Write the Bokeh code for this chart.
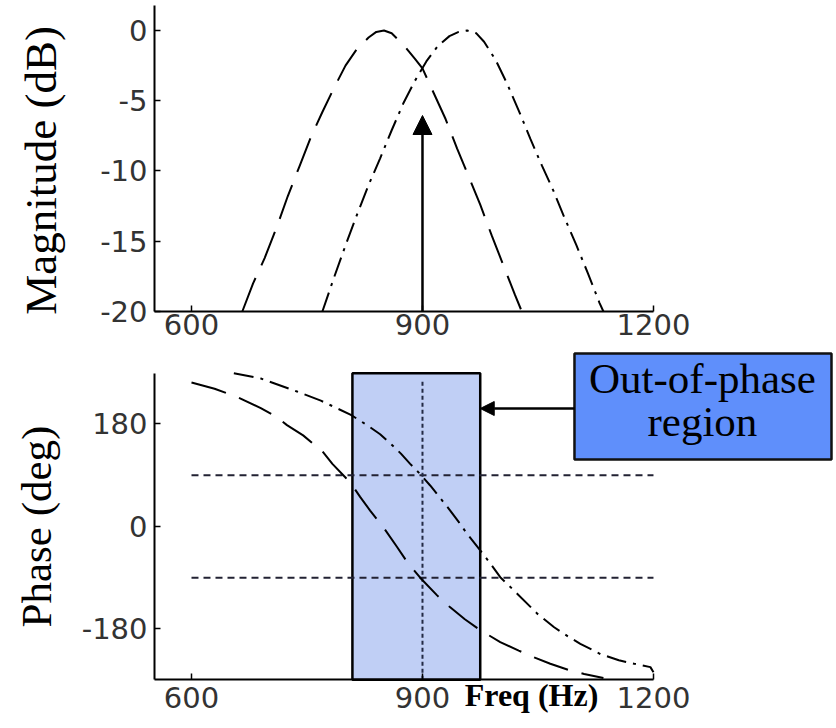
import math
from bokeh.plotting import figure
from bokeh.models import (Range1d, FixedTicker, Arrow, NormalHead, LinearAxis,
                          CustomJSTickFormatter)
from bokeh.core.properties import value
from bokeh.embed import file_html
from bokeh.resources import INLINE

# ---------------- data ----------------
freq_ticks = [600, 900, 1200]
mag_ticks = [0, -5, -10, -15, -20]
phase_ticks = [180, 0, -180]

mag_freq_a = [666, 680, 695, 710, 725, 740, 755, 770, 785, 800, 815, 830, 840, 850,
              860, 875, 890, 900, 915, 930, 945, 960, 975, 990, 1005, 1020, 1029]
mag_db_a = [-20, -18, -16.2, -14.1, -11.8, -9.7, -7.6, -5.8, -4.1, -2.5, -1.3, -0.5, -0.1, 0,
            -0.2, -1.0, -2.0, -2.7, -4.5, -6.3, -8.4, -10.4, -12.4, -14.6, -16.7, -18.8, -20]

mag_freq_b = [770, 785, 800, 815, 830, 845, 860, 875, 890, 905, 920, 935, 947, 958,
              970, 980, 995, 1010, 1025, 1040, 1055, 1070, 1085, 1100, 1115, 1130, 1135]
mag_db_b = [-20, -17.6, -15.3, -13.1, -11.0, -9.1, -7.1, -5.2, -3.6, -2.2, -1.1, -0.4, -0.1, 0,
            -0.2, -0.8, -2.1, -3.8, -5.7, -7.7, -9.6, -11.4, -13.4, -15.3, -17.3, -19.4, -20]

phase_freq_a = [600, 630, 660, 690, 711, 724, 745, 770, 783, 800, 809, 819, 832, 850,
                867, 880, 897, 919, 936, 955, 975, 1001, 1025, 1045, 1066, 1090, 1110, 1135]
phase_deg_a = [253, 242, 227, 208, 192, 178, 160, 132, 110, 86, 72, 52, 28, -3,
               -36, -62, -90, -121, -142, -163, -182, -203, -218, -230, -241, -252, -259, -266]

phase_freq_b = [655, 690, 737, 768, 807, 828, 845, 859, 872, 884, 897, 910, 923, 936, 947,
                958, 975, 987, 1001, 1023, 1049, 1071, 1090, 1105, 1131, 1155, 1175, 1196, 1200]
phase_deg_b = [269, 260, 237, 221, 196, 178, 162, 145, 128, 110, 92, 72, 50, 28, 8,
               -13, -42, -63, -89, -118, -153, -177, -194, -206, -224, -235, -241, -247, -256]

ref_phase = [90, -90]          # horizontal reference lines
ref_span = [600, 1200]
marker_freq = 900              # drive frequency
marker_db = -6.05
region = [809, 975]            # out-of-phase region (Hz)
callout_lines = ["Out-of-phase", "region"]

freq_bounds = (552, 1200)
mag_bounds = (-20, 1.78)
phase_bounds = (-269, 269)

# ---------------- figure (one canvas, two stacked panels) ----------------
W, H = 836, 728
p = figure(width=W, height=H,
           x_range=Range1d(351.95, 1437.7), y_range=Range1d(-49.68, 2.135),
           output_backend="svg", toolbar_location=None,
           x_axis_location=None, y_axis_location=None,
           min_border_left=0, min_border_right=0, min_border_top=0, min_border_bottom=0)
p.extra_y_ranges = {"phase": Range1d(-354.8, 923.8)}
p.outline_line_color = None
p.grid.visible = False
p.background_fill_color = "white"

TICK_FONT = "DejaVu Sans"
SERIF = "Liberation Serif"
fmt = CustomJSTickFormatter(code="return tick.toString()")


def make_axis(ticks, bounds, fixed, standoff, y_range_name="default"):
    ax = LinearAxis(ticker=FixedTicker(ticks=ticks), bounds=bounds, fixed_location=fixed,
                    y_range_name=y_range_name, formatter=fmt)
    ax.axis_line_width = 2
    ax.axis_line_color = "black"
    ax.major_tick_in = 6
    ax.major_tick_out = 0
    ax.major_tick_line_width = 1.5
    ax.minor_tick_line_color = None
    ax.major_label_text_font = TICK_FONT
    ax.major_label_text_font_size = "29px"
    ax.major_label_text_color = "#333333"
    ax.major_label_standoff = standoff
    return ax


p.add_layout(make_axis(mag_ticks, mag_bounds, freq_bounds[0], 7), "left")
p.add_layout(make_axis(freq_ticks, freq_bounds, mag_bounds[0], 3), "below")
p.add_layout(make_axis(phase_ticks, phase_bounds, freq_bounds[0], 7, "phase"), "left")
p.add_layout(make_axis(freq_ticks, freq_bounds, phase_bounds[0], 7, "phase"), "below")

# ---------------- magnitude panel ----------------
p.line(mag_freq_a, mag_db_a, line_color="black", line_width=2, line_dash="36 14")
p.line(mag_freq_b, mag_db_b, line_color="black", line_width=2, line_dash="20 7 3 7")
p.add_layout(Arrow(end=NormalHead(size=19, fill_color="black", line_color="black"),
                   x_start=marker_freq, y_start=mag_bounds[0], x_end=marker_freq, y_end=marker_db,
                   line_color="black", line_width=2.5))
p.text(x=[403.9], y=[-9.96], text=["Magnitude (dB)"], angle=math.pi / 2,
       text_font=value(SERIF), text_font_size="45px", text_color="black",
       text_align="center", text_baseline="alphabetic")

# ---------------- phase panel ----------------
p.quad(left=[region[0]], right=[region[1]], bottom=[phase_bounds[0]], top=[phase_bounds[1]],
       fill_color="#c0cff5", line_color="black", line_width=2.5, y_range_name="phase")
p.segment(x0=[ref_span[0]] * 2, x1=[ref_span[1]] * 2, y0=ref_phase, y1=ref_phase,
          line_color="#222233", line_width=2, line_dash="7 5", y_range_name="phase")
p.segment(x0=[marker_freq], x1=[marker_freq], y0=[phase_bounds[0]], y1=[256],
          line_color="#222a44", line_width=2, line_dash="4 3", y_range_name="phase")
p.line(phase_freq_a, phase_deg_a, line_color="black", line_width=2, line_dash="36 14",
       y_range_name="phase")
p.line(phase_freq_b, phase_deg_b, line_color="black", line_width=2, line_dash="20 7 3 7",
       y_range_name="phase")
p.text(x=[398.7], y=[0], text=["Phase (deg)"], angle=math.pi / 2,
       text_font=value(SERIF), text_font_size="43px", text_color="black",
       text_align="center", text_baseline="alphabetic", y_range_name="phase")
p.text(x=[1041.6], y=[-295.1], text=["Freq (Hz)"],
       text_font=value(SERIF), text_font_size="32px", text_font_style="bold",
       text_color="black", text_align="center", text_baseline="alphabetic",
       y_range_name="phase")

# callout
p.quad(left=[1097.4], right=[1431.2], bottom=[117.7], top=[303.8],
       fill_color="#5f8ffb", line_color="#111111", line_width=2.5, y_range_name="phase")
p.text(x=[1263.6, 1263.6], y=[260.0, 184.5], text=callout_lines,
       text_font=value(SERIF), text_font_size="43px", text_color="black",
       text_align="center", text_baseline="alphabetic", y_range_name="phase")
p.add_layout(Arrow(end=NormalHead(size=14, fill_color="black", line_color="black"),
                   x_start=1097.4, y_start=207.2, x_end=region[1], y_end=207.2,
                   line_color="black", line_width=2.5, y_range_name="phase"))

open("out.html", "w").write(file_html(p, INLINE))
